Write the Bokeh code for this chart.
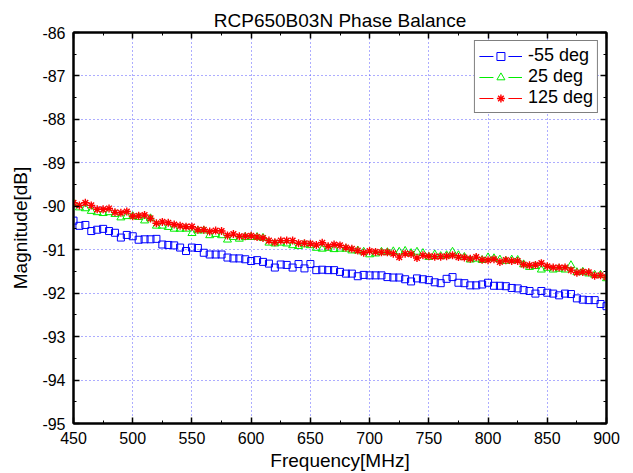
from bokeh.plotting import figure
from bokeh.models import (Range1d, FixedTicker, LinearAxis, Legend, LegendItem,
                          CustomJSTickFormatter)
from bokeh.embed import file_html
from bokeh.resources import INLINE

# ---------------- data ----------------
freq = list(range(450, 905, 5))

m55 = [
    -90.33, -90.45, -90.43, -90.57, -90.54, -90.52, -90.57, -90.61, -90.72, -90.66,
    -90.69, -90.77, -90.76, -90.76, -90.75, -90.88, -90.89, -90.90, -90.95, -91.03,
    -90.95, -90.96, -91.07, -91.11, -91.11, -91.11, -91.18, -91.20, -91.20, -91.22,
    -91.26, -91.24, -91.28, -91.32, -91.41, -91.34, -91.35, -91.41, -91.33, -91.43,
    -91.33, -91.47, -91.46, -91.47, -91.47, -91.51, -91.55, -91.55, -91.61, -91.58,
    -91.59, -91.59, -91.59, -91.63, -91.64, -91.64, -91.68, -91.73, -91.66, -91.68,
    -91.70, -91.75, -91.77, -91.67, -91.63, -91.76, -91.77, -91.82, -91.82, -91.80,
    -91.76, -91.83, -91.83, -91.84, -91.88, -91.89, -91.93, -91.95, -92.01, -91.95,
    -91.99, -92.01, -92.05, -92.01, -92.02, -92.12, -92.15, -92.16, -92.16, -92.25,
    -92.30,
]

p25 = [
    -89.93, -90.03, -90.05, -90.11, -90.14, -90.16, -90.14, -90.18, -90.26, -90.23,
    -90.23, -90.25, -90.33, -90.28, -90.45, -90.45, -90.48, -90.52, -90.52, -90.52,
    -90.62, -90.56, -90.56, -90.67, -90.64, -90.67, -90.77, -90.71, -90.75, -90.71,
    -90.71, -90.71, -90.73, -90.84, -90.86, -90.84, -90.86, -90.90, -90.92, -90.88,
    -90.90, -90.96, -90.98, -90.96, -90.99, -90.98, -90.98, -91.02, -91.02, -91.05,
    -91.11, -91.09, -91.05, -91.06, -91.04, -91.05, -91.03, -91.08, -91.05, -91.08,
    -91.17, -91.11, -91.15, -91.13, -91.05, -91.13, -91.17, -91.23, -91.21, -91.24,
    -91.18, -91.20, -91.23, -91.26, -91.23, -91.24, -91.34, -91.40, -91.38, -91.46,
    -91.42, -91.46, -91.44, -91.46, -91.36, -91.52, -91.51, -91.55, -91.58, -91.58,
    -91.66,
]

p125 = [
    -89.92, -89.98, -89.92, -89.98, -90.07, -90.07, -90.05, -90.14, -90.15, -90.12,
    -90.23, -90.22, -90.20, -90.28, -90.39, -90.36, -90.38, -90.42, -90.45, -90.47,
    -90.47, -90.54, -90.54, -90.58, -90.56, -90.57, -90.67, -90.64, -90.69, -90.69,
    -90.68, -90.71, -90.73, -90.79, -90.83, -90.79, -90.79, -90.79, -90.85, -90.85,
    -90.86, -90.89, -90.84, -90.92, -90.88, -90.90, -90.95, -90.98, -91.02, -91.07,
    -91.03, -91.05, -91.06, -91.06, -91.09, -91.17, -91.09, -91.10, -91.19, -91.13,
    -91.15, -91.16, -91.16, -91.15, -91.13, -91.17, -91.18, -91.21, -91.17, -91.23,
    -91.24, -91.22, -91.28, -91.24, -91.26, -91.26, -91.34, -91.36, -91.35, -91.31,
    -91.38, -91.41, -91.41, -91.41, -91.47, -91.53, -91.51, -91.52, -91.60, -91.59,
    -91.63,
]

x_ticks = [450, 500, 550, 600, 650, 700, 750, 800, 850, 900]
y_ticks = [-95, -94, -93, -92, -91, -90, -89, -88, -87, -86]
series_labels = ["-55 deg", "25 deg", "125 deg"]
series_colors = ["#0000ff", "#00ee00", "#ff0000"]

x_minor = [(a + b) / 2 for a, b in zip(x_ticks[:-1], x_ticks[1:])]
y_minor = [(a + b) / 2 for a, b in zip(y_ticks[:-1], y_ticks[1:])]

FONT = "Liberation Sans"

p = figure(width=633, height=473, output_backend="svg", toolbar_location=None,
           x_range=Range1d(450, 900), y_range=Range1d(-95, -86),
           min_border_left=73, min_border_right=27, min_border_top=32,
           min_border_bottom=47, background_fill_color="white",
           border_fill_color="white")

p.title.text = "RCP650B03N Phase Balance"
p.title.align = "center"
p.title.vertical_align = "top"
p.title.text_font = FONT
p.title.text_font_size = "19px"
p.title.text_font_style = "normal"
p.title.text_color = "black"
p.title.standoff = 0

p.outline_line_color = "black"
p.outline_line_width = 2

xt = FixedTicker(ticks=x_ticks, minor_ticks=x_minor)
yt = FixedTicker(ticks=y_ticks, minor_ticks=y_minor)

# plain hyphen-minus tick labels, as in the reference
num_fmt = CustomJSTickFormatter(code="return String(tick);")
blank_fmt = CustomJSTickFormatter(code="return '';")


def style_axis(ax, ticker, labels=True):
    ax.ticker = ticker
    ax.axis_line_color = "black"
    ax.axis_line_width = 2
    ax.major_tick_in = 6
    ax.major_tick_out = 0
    ax.minor_tick_in = 3
    ax.minor_tick_out = 0
    ax.major_tick_line_color = "black"
    ax.major_tick_line_width = 1.5
    ax.minor_tick_line_color = "black"
    ax.minor_tick_line_width = 1
    if labels:
        ax.formatter = num_fmt
        ax.major_label_text_font = FONT
        ax.major_label_text_font_size = "16px"
        ax.major_label_text_color = "black"
        ax.major_label_standoff = 8
        ax.axis_label_text_font = FONT
        ax.axis_label_text_font_size = "19px"
        ax.axis_label_text_font_style = "normal"
        ax.axis_label_text_color = "black"
    else:
        ax.formatter = blank_fmt
        ax.major_label_standoff = 0


style_axis(p.xaxis[0], xt)
style_axis(p.yaxis[0], yt)
p.xaxis[0].axis_label = "Frequency[MHz]"
p.xaxis[0].axis_label_standoff = 3
p.yaxis[0].axis_label = "Magnitude[dB]"
p.yaxis[0].axis_label_standoff = 8

top_ax = LinearAxis()
right_ax = LinearAxis()
style_axis(top_ax, xt, labels=False)
style_axis(right_ax, yt, labels=False)
p.add_layout(top_ax, "above")
p.add_layout(right_ax, "right")

for g in (p.xgrid[0], p.ygrid[0]):
    g.grid_line_color = "#5a5aff"
    g.grid_line_dash = "1 3"
    g.grid_line_width = 1
p.xgrid[0].ticker = xt
p.ygrid[0].ticker = yt

# ---------------- data marks ----------------
series = [m55, p25, p125]
markers = [("square", 7, 1), ("triangle", 8, 1), ("asterisk", 8, 1.4)]

items = []
for vals, lab, col, (mk, sz, lw) in zip(series, series_labels, series_colors, markers):
    # legend-only helpers (hidden in the plot itself)
    ln = p.line(freq, vals, line_color=col, line_width=1, visible=False)
    mask = p.scatter(freq, vals, marker="square", size=8, fill_color="white",
                     line_color="white", line_width=7, visible=False)
    mr = p.scatter(freq, vals, marker=mk, size=sz, line_color=col,
                   fill_color=None, line_width=lw, visible=False)
    items.append(LegendItem(label=lab, renderers=[ln, mask, mr]))

for vals, col, (mk, sz, lw) in zip(series, series_colors, markers):
    p.scatter(freq, vals, marker=mk, size=sz, line_color=col,
              fill_color=None, line_width=lw)

legend = Legend(items=items, location="top_right", margin=8,
                label_text_font=FONT, label_text_font_size="18px",
                label_text_color="black", label_height=20, glyph_height=20,
                glyph_width=43, spacing=0, padding=4, label_standoff=6,
                border_line_color="black", border_line_width=1,
                background_fill_color="white", background_fill_alpha=1,
                inactive_fill_alpha=0)
p.add_layout(legend)

open("out.html", "w").write(file_html(p, INLINE))
